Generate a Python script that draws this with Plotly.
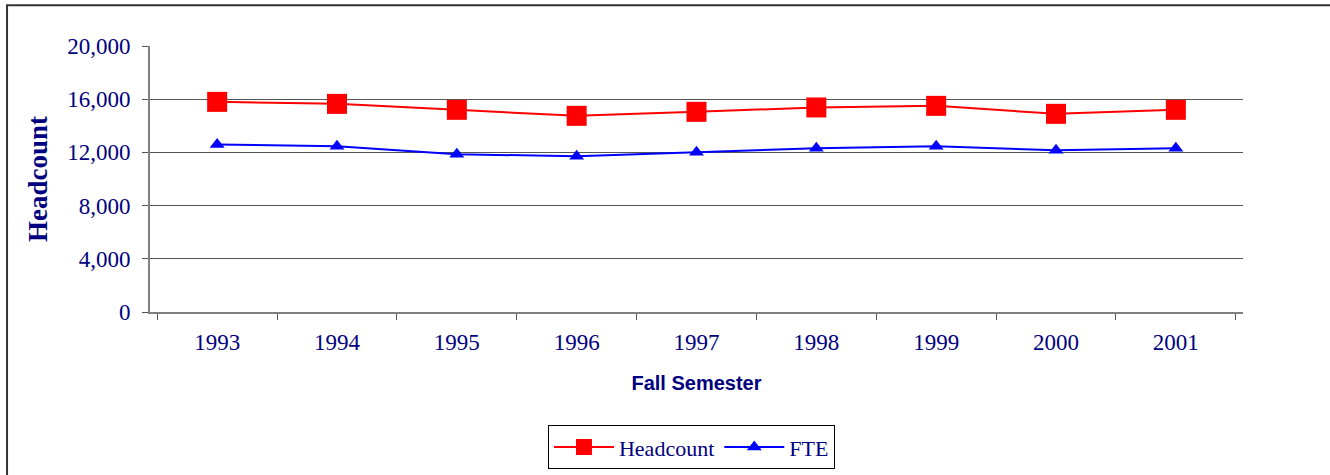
import plotly.graph_objects as go

years = ['1993', '1994', '1995', '1996', '1997', '1998', '1999', '2000', '2001']
headcount = [15800, 15650, 15200, 14750, 15050, 15380, 15500, 14900, 15200]
fte = [12600, 12460, 11860, 11710, 12010, 12310, 12460, 12160, 12310]

navy = '#000080'
serif = 'Liberation Serif, Times New Roman, serif'

fig = go.Figure()
fig.add_trace(go.Scatter(
    x=years, y=headcount, name='Headcount', mode='lines+markers',
    line=dict(color='#ff0000', width=2),
    marker=dict(symbol='square', size=20, color='#ff0000'),
))
fig.add_trace(go.Scatter(
    x=years, y=fte, name='FTE', mode='lines+markers',
    line=dict(color='#0000ff', width=2),
    marker=dict(symbol='triangle-up', size=13, color='#0000ff'),
))

fig.update_xaxes(
    type='category', tickson='boundaries', ticks='outside', ticklen=6,
    tickcolor='#555555', showline=True, linecolor='#808080', linewidth=2,
    showgrid=False, ticklabelstandoff=8, automargin=False,
    tickfont=dict(family=serif, size=23, color=navy),
    title=dict(text='Fall Semester', standoff=22,
               font=dict(family='Liberation Sans, Arial, sans-serif', size=20, color=navy, weight='bold')),
)
fig.update_yaxes(
    range=[0, 20000], dtick=4000, tickformat=',', ticks='outside', ticklen=6,
    tickcolor='#555555', showline=True, linecolor='#808080', linewidth=2,
    gridcolor='#555555', gridwidth=1, zeroline=False, ticklabelstandoff=7,
    automargin=False,
    tickfont=dict(family=serif, size=23, color=navy),
    title=dict(text='Headcount', standoff=12,
               font=dict(family=serif, size=27, color=navy, weight='bold')),
)

fig.update_layout(
    width=1330, height=475,
    margin=dict(l=150, r=87, t=46, b=163, autoexpand=False),
    paper_bgcolor='white', plot_bgcolor='white',
    showlegend=True,
    legend=dict(orientation='h', x=0.4954, xanchor='center', y=-0.426, yanchor='top',
                bordercolor='#000000', borderwidth=1, itemwidth=60,
                font=dict(family=serif, size=22, color=navy)),
    shapes=[dict(type='rect', xref='paper', yref='paper',
                 x0=-0.1308, x1=1.2, y0=-1.0, y1=1.153,
                 line=dict(color='#333333', width=2))],
)

# drop the default page margin so the chart sits at the window corner
fig.write_html("out.html", config={'displayModeBar': False},
               post_script="document.body.style.margin='0';")
